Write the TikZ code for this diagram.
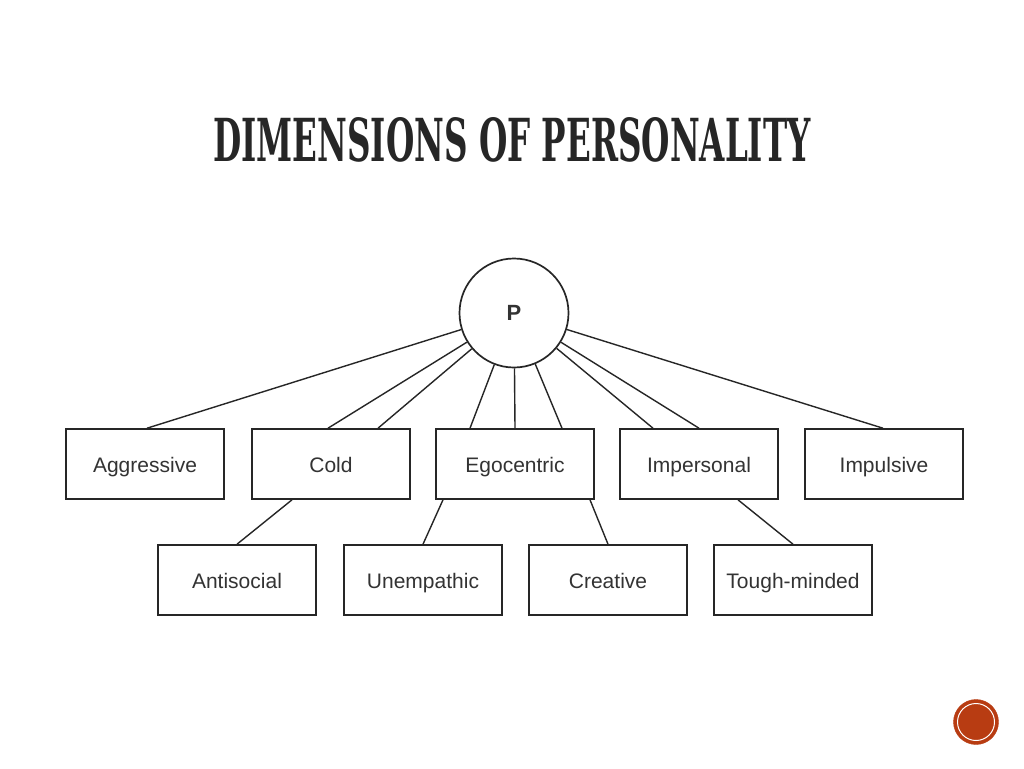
\documentclass[tikz,border=0pt]{standalone}
\usepackage{fontspec}
\setmainfont{Liberation Sans}
\newfontfamily\titlefont{DejaVu Serif Condensed}
\usepackage{tikz}
\definecolor{dp_ink}{HTML}{262626}
\definecolor{dp_text}{HTML}{333333}
\definecolor{dp_red}{HTML}{B83C12}
\tikzset{
    trait/.style={draw=dp_ink, line width=1.6pt, minimum width=158pt, minimum height=70pt,
        text=dp_text, font=\fontsize{21}{24}\selectfont, inner sep=0pt,
        text height=19pt, text depth=3pt},
    link/.style={draw=dp_ink, line width=1.4pt}
}

\begin{document}
\begin{tikzpicture}[x=1pt, y=-1pt]
            \useasboundingbox[fill=white] (0, 0) rectangle (1024, 768);

            \node[text=dp_ink] (title) at (512, 140)
                {\resizebox{597pt}{44pt}{\titlefont\bfseries DIMENSIONS OF PERSONALITY}};

            \node[circle, draw=dp_ink, line width=1.7pt, minimum size=109pt, inner sep=0pt,
                font=\fontsize{22}{24}\selectfont\bfseries, text=dp_text] (P) at (514, 313) {P};

            \node[trait] (agg) at (145, 464) {Aggressive};
            \node[trait] (cold) at (331, 464) {Cold};
            \node[trait] (ego) at (515, 464) {Egocentric};
            \node[trait] (imp) at (699, 464) {Impersonal};
            \node[trait] (puls) at (884, 464) {Impulsive};

            \node[trait] (anti) at (237, 580) {Antisocial};
            \node[trait] (unemp) at (423, 580) {Unempathic};
            \node[trait] (crea) at (608, 580) {Creative};
            \node[trait] (tough) at (793, 580) {Tough-minded};

            % from P down to the first row
            \draw[link] (P) -- ([xshift=2pt]agg.north);
            \draw[link] (P) -- ([xshift=-3pt]cold.north);
            \draw[link] (P) -- ([xshift=47pt]cold.north);
            \draw[link] (P) -- ([xshift=-45pt]ego.north);
            \draw[link] (P) -- (ego.north);
            \draw[link] (P) -- ([xshift=47pt]ego.north);
            \draw[link] (P) -- ([xshift=-46pt]imp.north);
            \draw[link] (P) -- (imp.north);
            \draw[link] (P) -- ([xshift=-1pt]puls.north);

            % first row to the second row
            \draw[link] ([xshift=-39pt]cold.south) -- (anti.north);
            \draw[link] ([xshift=-72pt]ego.south) -- (unemp.north);
            \draw[link] ([xshift=75pt]ego.south) -- (crea.north);
            \draw[link] ([xshift=39pt]imp.south) -- (tough.north);

            \filldraw [dp_red] (976, 722) circle (22.5pt);
            \draw [white, line width=1pt] (976, 722) circle (18.5pt);

        \end{tikzpicture}
\end{document}
